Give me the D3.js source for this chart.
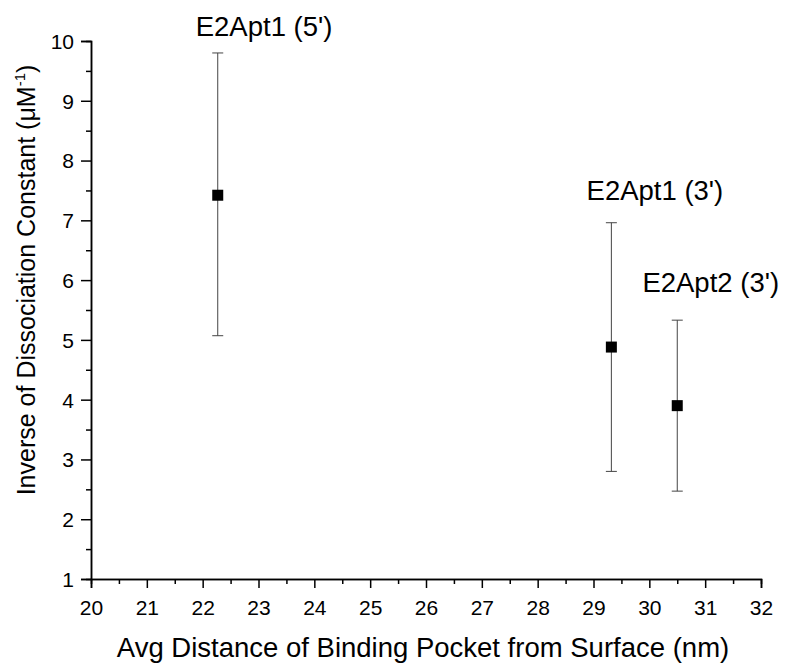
<!DOCTYPE html>
<html><head><meta charset="utf-8">
<script src="https://cdn.jsdelivr.net/npm/d3@7"></script>
<style>body{margin:0;background:#fff}svg{display:block}text{font-family:Arial,"Liberation Sans",sans-serif}</style>
</head><body><svg id="c" width="785" height="665"></svg>
<script>
const labels = ["E2Apt1 (5')", "E2Apt1 (3')", "E2Apt2 (3')"];
const xVals = [22.27, 29.32, 30.5];
const yVals = [7.42, 4.88, 3.9];
const yHigh = [9.8, 6.96, 5.33];
const yLow = [5.07, 2.8, 2.47];
const labelX = [23.10, 30.10, 31.10];
const labelY = [10.08, 7.34, 5.80];
const xTicks = [20,21,22,23,24,25,26,27,28,29,30,31,32];
const yTicks = [1,2,3,4,5,6,7,8,9,10];

const svg = d3.select("#c");
const x = d3.scaleLinear().domain([20,32]).range([91,761]);
const y = d3.scaleLinear().domain([1,10]).range([579,41]);

const xMinor = d3.range(20.5,32,1);
const yMinor = d3.range(1.5,10,1);

const gx = svg.append("g").attr("transform","translate(0,579)");
gx.call(d3.axisBottom(x).tickValues(xMinor).tickSize(5).tickFormat(""));
gx.call(g=>g.append("g").call(d3.axisBottom(x).tickValues(xTicks).tickSize(9).tickFormat(d3.format("d"))));
const gy = svg.append("g").attr("transform","translate(91,0)");
gy.call(d3.axisLeft(y).tickValues(yMinor).tickSize(5).tickFormat(""));
gy.call(g=>g.append("g").call(d3.axisLeft(y).tickValues(yTicks).tickSize(10).tickFormat(d3.format("d"))));
svg.selectAll(".domain").attr("stroke","#000").attr("stroke-width",1.5);
svg.selectAll(".tick line").attr("stroke","#000").attr("stroke-width",1.5);
gx.selectAll("text").attr("font-size",21).attr("fill","#000").attr("y",36).attr("dy",0);
gy.selectAll("text").attr("font-size",21).attr("fill","#000").attr("x",-17).attr("dy","0.35em");

const data = labels.map((l,i)=>({l, x:xVals[i], y:yVals[i], hi:yHigh[i], lo:yLow[i], lx:labelX[i], ly:labelY[i]}));
const eb = svg.append("g").attr("stroke","#444").attr("stroke-width",1);
data.forEach(d=>{
  eb.append("line").attr("x1",x(d.x)).attr("x2",x(d.x)).attr("y1",y(d.hi)).attr("y2",y(d.lo));
  eb.append("line").attr("x1",x(d.x)-5.5).attr("x2",x(d.x)+5.5).attr("y1",y(d.hi)).attr("y2",y(d.hi));
  eb.append("line").attr("x1",x(d.x)-5.5).attr("x2",x(d.x)+5.5).attr("y1",y(d.lo)).attr("y2",y(d.lo));
});
svg.append("g").selectAll("rect").data(data).join("rect")
  .attr("x",d=>x(d.x)-5.5).attr("y",d=>y(d.y)-5.5).attr("width",11).attr("height",11).attr("fill","#000");

svg.append("g").selectAll("text").data(data).join("text")
  .attr("x",d=>x(d.lx)).attr("y",d=>y(d.ly))
  .attr("text-anchor","middle").attr("font-size",27.5).attr("fill","#000").text(d=>d.l);

svg.append("text").attr("x",423).attr("y",657).attr("text-anchor","middle").attr("font-size",27.5).attr("fill","#000")
  .text("Avg Distance of Binding Pocket from Surface (nm)");
const yt = svg.append("text").attr("transform","translate(35,280) rotate(-90)").attr("text-anchor","middle").attr("font-size",25).attr("fill","#000");
yt.append("tspan").text("Inverse of Dissociation Constant (μM");
yt.append("tspan").attr("font-size",15).attr("dy",-10).text("-1");
yt.append("tspan").attr("dy",10).text(")");
</script></body></html>
